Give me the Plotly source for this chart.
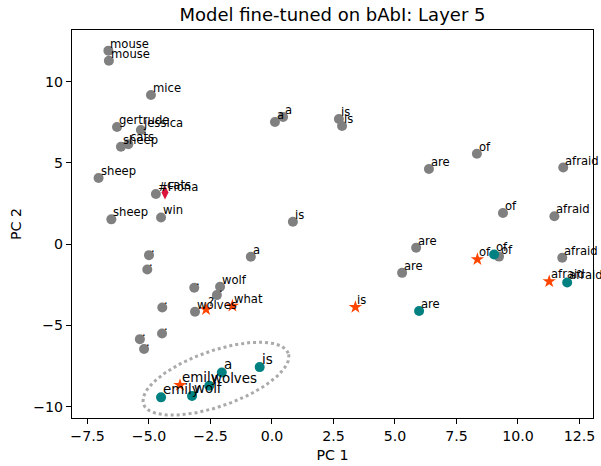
import numpy as np
import plotly.graph_objects as go

# ---------------- data ----------------
gray_x = [-6.65, -6.63, -4.92, -6.30, -5.33, -5.84, -6.14, -7.05, -4.72, -6.53, -4.51,
          0.12, 0.45, 2.72, 2.85, 6.38, 0.85, 5.86, 5.29, 8.33, 11.84, 9.39, 11.48, 9.23, 11.80,
          -5.00, -5.07, -0.86, -3.16, -2.11, -2.24, -4.46, -3.13, -5.37, -5.20, -4.47]
gray_y = [11.90, 11.28, 9.17, 7.20, 7.02, 6.14, 5.99, 4.06, 3.08, 1.52, 1.64,
          7.51, 7.82, 7.69, 7.26, 4.62, 1.37, -0.23, -1.77, 5.56, 4.71, 1.91, 1.71, -0.77, -0.84,
          -0.68, -1.56, -0.78, -2.69, -2.63, -3.14, -3.90, -4.16, -5.85, -6.46, -5.50]
gray_labels = ["mouse", "mouse", "mice", "gertrude", "jessica", "cats", "sheep", "sheep", "#Fiona", "sheep", "win",
               "a", "a", "is", "is", "are", "is", "are", "are", "of", "afraid", "of", "afraid", "of", "afraid",
               ".", ".", "a", ".", "wolf", ".", ".", "wolves", ".", ".", "."]

teal_x = [5.98, 9.03, 12.00, -0.50, -2.04, -2.55, -4.51, -3.25]
teal_y = [-4.12, -0.64, -2.36, -7.57, -7.90, -8.72, -9.43, -9.35]
teal_labels = ["are", "of", "afraid", "is", "a", "wolves", "emily", "wolf"]
teal_big = [False, False, False, True, True, True, True, True]

star_x = [-2.68, -1.61, 3.39, 8.35, 11.27, -3.74]
star_y = [-4.02, -3.80, -3.88, -0.94, -2.30, -8.68]
star_labels = ["?", "what", "is", "of", "afraid", "emily"]
star_big = [False, False, False, False, False, True]

diamond_x = [-4.35]
diamond_y = [3.18]
diamond_labels = ["cats"]

# highlighted cluster ellipse (center in data units, semi-axes in pixels, tilt in degrees)
ell_center = (-2.28, -8.28)
ell_axes_px = (76.7, 27.8)
ell_angle = 19.3

x_range = [-8.13, 13.05]
y_range = [-10.7, 13.17]
x_ticks = [-7.5, -5.0, -2.5, 0.0, 2.5, 5.0, 7.5, 10.0, 12.5]
y_ticks = [-10, -5, 0, 5, 10]

title = "Model fine-tuned on bAbI: Layer 5"
x_title = "PC 1"
y_title = "PC 2"

# ---------------- layout ----------------
W, H = 601, 466
ML, MR, MT, MB = 72, 8, 30, 48
FONT = "DejaVu Sans"
pw = W - ML - MR
ph = H - MT - MB
sx = pw / (x_range[1] - x_range[0])
sy = ph / (y_range[1] - y_range[0])

fig = go.Figure()

t = np.linspace(0, 2 * np.pi, 200)
th = np.deg2rad(ell_angle)
a, b = ell_axes_px
ex = ell_center[0] + (a * np.cos(th) * np.cos(t) - b * np.sin(th) * np.sin(t)) / sx
ey = ell_center[1] + (a * np.sin(th) * np.cos(t) + b * np.cos(th) * np.sin(t)) / sy
fig.add_trace(go.Scatter(x=ex, y=ey, mode="lines",
                         line=dict(color="#aaaaaa", width=3, dash="dot"),
                         hoverinfo="skip", showlegend=False, cliponaxis=False))

fig.add_trace(go.Scatter(x=gray_x, y=gray_y, mode="markers",
                         marker=dict(color="#808080", size=10, line=dict(width=0)),
                         showlegend=False))
fig.add_trace(go.Scatter(x=teal_x, y=teal_y, mode="markers",
                         marker=dict(color="#008080", size=10, line=dict(width=0)),
                         showlegend=False))
fig.add_trace(go.Scatter(x=star_x, y=star_y, mode="markers",
                         marker=dict(color="#FF4500", size=10, symbol="star", line=dict(width=0)),
                         showlegend=False))
fig.add_trace(go.Scatter(x=diamond_x, y=diamond_y, mode="markers",
                         marker=dict(color="#DC143C", size=10, symbol="diamond-tall", line=dict(width=0)),
                         showlegend=False))

SMALL, BIG = 11.6, 13.4


def add_labels(xs, ys, labels, bigs=None):
    for i, (x, y, lab) in enumerate(zip(xs, ys, labels)):
        big = bigs[i] if bigs else False
        fig.add_annotation(x=x, y=y, text=lab, showarrow=False,
                           xanchor="left", yanchor="bottom", xshift=1, yshift=-1,
                           font=dict(family=FONT, size=BIG if big else SMALL, color="black"),
                           borderpad=0)


add_labels(gray_x, gray_y, gray_labels)
add_labels(teal_x, teal_y, teal_labels, teal_big)
add_labels(star_x, star_y, star_labels, star_big)
add_labels(diamond_x, diamond_y, diamond_labels)

TICK = 14.2
axis_common = dict(showline=True, linecolor="black", linewidth=1.1, mirror=True,
                   ticks="outside", ticklen=5, tickwidth=1.1, tickcolor="black",
                   showgrid=False, zeroline=False, automargin=False,
                   tickfont=dict(family=FONT, size=TICK, color="black"))

fig.update_xaxes(range=x_range, tickvals=x_ticks, tickformat=".1f",
                 title=dict(text=x_title, font=dict(family=FONT, size=TICK, color="black"), standoff=6),
                 **axis_common)
fig.update_yaxes(range=y_range, tickvals=y_ticks,
                 title=dict(text=y_title, font=dict(family=FONT, size=TICK, color="black"), standoff=8),
                 **axis_common)

fig.update_layout(
    width=W, height=H,
    margin=dict(l=ML, r=MR, t=MT, b=MB, pad=0),
    paper_bgcolor="white", plot_bgcolor="white",
    title=dict(text=title, x=(ML + pw / 2) / W, xanchor="center",
               y=1 - 15 / H, yanchor="middle",
               font=dict(family=FONT, size=18, color="black")),
    font=dict(family=FONT),
)

fig.write_html("out.html", config={"displayModeBar": False},
               post_script="document.body.style.margin='0';")
